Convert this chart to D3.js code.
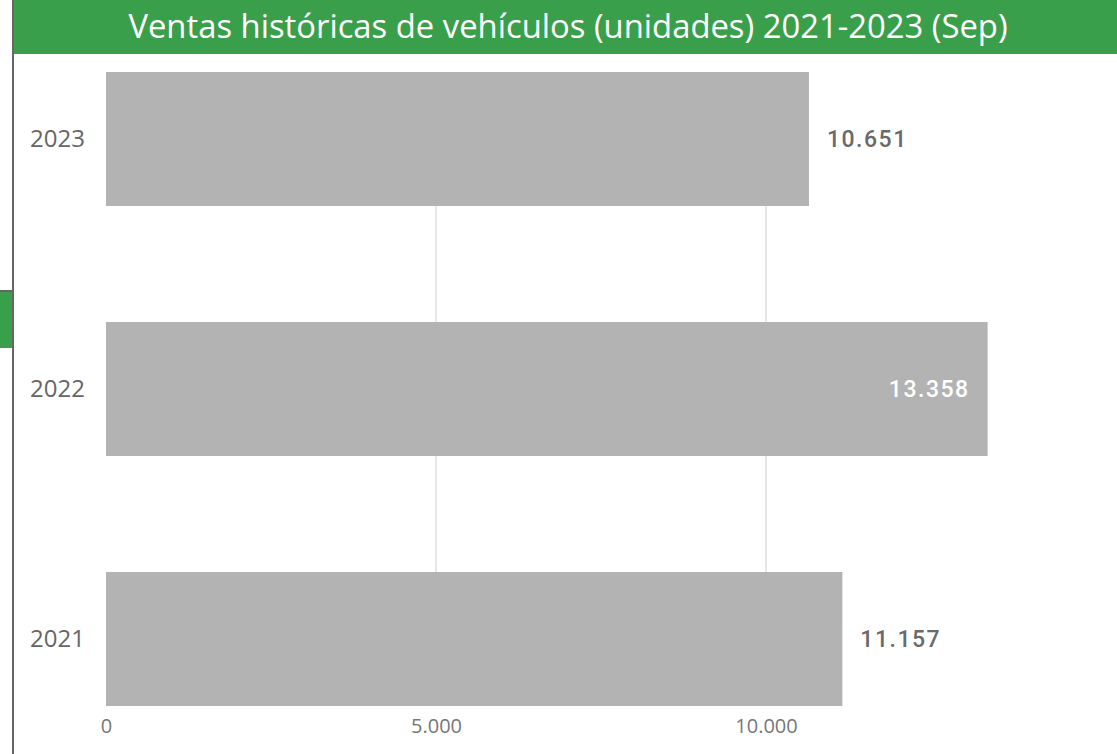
<!DOCTYPE html>
<html>
<head>
<meta charset="utf-8">
<script src="https://cdn.jsdelivr.net/npm/d3@7"></script>
<style>
  body { margin: 0; background: #fff; }
  svg { display: block; font-family: "Open Sans", "Noto Sans", sans-serif; }
</style>
</head>
<body>
<div id="chart"></div>
<script>
// data
var years = ["2023", "2022", "2021"];
var ventas = [10651, 13358, 11157];
var xTicks = [0, 5000, 10000];
var titulo = "Ventas históricas de vehículos (unidades) 2021-2023 (Sep)";

var W = 1117, H = 754;
var fmt = d3.formatLocale({decimal: ",", thousands: ".", grouping: [3], currency: ["", ""]}).format(",d");

var svg = d3.select("#chart").append("svg")
  .attr("width", W).attr("height", H);

// left frame line + small tab
svg.append("rect").attr("x", 12).attr("y", 0).attr("width", 2).attr("height", H).attr("fill", "#666");
svg.append("rect").attr("x", 0).attr("y", 290).attr("width", 12).attr("height", 2).attr("fill", "#666");
svg.append("rect").attr("x", 0).attr("y", 292).attr("width", 12).attr("height", 56).attr("fill", "#3a9f4a");

// title bar
svg.append("rect").attr("x", 14).attr("y", 0).attr("width", W - 14).attr("height", 54).attr("fill", "#3a9f4a");
svg.append("text")
  .attr("x", 568).attr("y", 38)
  .attr("text-anchor", "middle")
  .attr("fill", "#fff")
  .style("font-size", "32.8px")
  .text(titulo);

var x = d3.scaleLinear().domain([0, 5000]).range([106, 436]);
var y = d3.scaleBand().domain(years).range([72, 706]).paddingInner(0.464).paddingOuter(0);

// gridlines
svg.append("g").selectAll("line")
  .data(xTicks.slice(1))
  .join("line")
  .attr("x1", d => x(d)).attr("x2", d => x(d))
  .attr("y1", 72).attr("y2", 706)
  .attr("stroke", "#e6e6e6").attr("stroke-width", 2);

// bars
svg.append("g").selectAll("rect")
  .data(years)
  .join("rect")
  .attr("x", x(0))
  .attr("y", d => y(d))
  .attr("width", (d, i) => x(ventas[i]) - x(0))
  .attr("height", y.bandwidth())
  .attr("fill", "#b3b3b3");

// x axis labels
var xAxis = svg.append("g")
  .attr("transform", "translate(0,706)")
  .call(d3.axisBottom(x).tickValues(xTicks).tickFormat(fmt).tickSize(0).tickPadding(13));
xAxis.select(".domain").remove();
xAxis.selectAll("text")
  .attr("fill", "#777")
  .style("font-size", "20px")
  .style("font-family", "'Open Sans', sans-serif");

// y axis labels
var yAxis = svg.append("g")
  .attr("transform", "translate(85,0)")
  .call(d3.axisLeft(y).tickSize(0).tickPadding(0));
yAxis.select(".domain").remove();
yAxis.selectAll("text")
  .attr("fill", "#666")
  .style("font-size", "24px")
  .style("font-family", "'Open Sans', sans-serif");

// value labels
var maxV = d3.max(ventas);
svg.append("g").selectAll("text")
  .data(years)
  .join("text")
  .attr("x", (d, i) => ventas[i] === maxV ? x(ventas[i]) - 18 : x(ventas[i]) + 18)
  .attr("y", d => y(d) + y.bandwidth() / 2)
  .attr("dy", "0.36em")
  .attr("text-anchor", (d, i) => ventas[i] === maxV ? "end" : "start")
  .attr("fill", (d, i) => ventas[i] === maxV ? "#fff" : "#6a6a6a")
  .style("font-size", "23px")
  .style("font-weight", "500")
  .style("letter-spacing", "1.5px")
  .style("font-family", "Roboto, sans-serif")
  .text((d, i) => fmt(ventas[i]));
</script>
</body>
</html>
